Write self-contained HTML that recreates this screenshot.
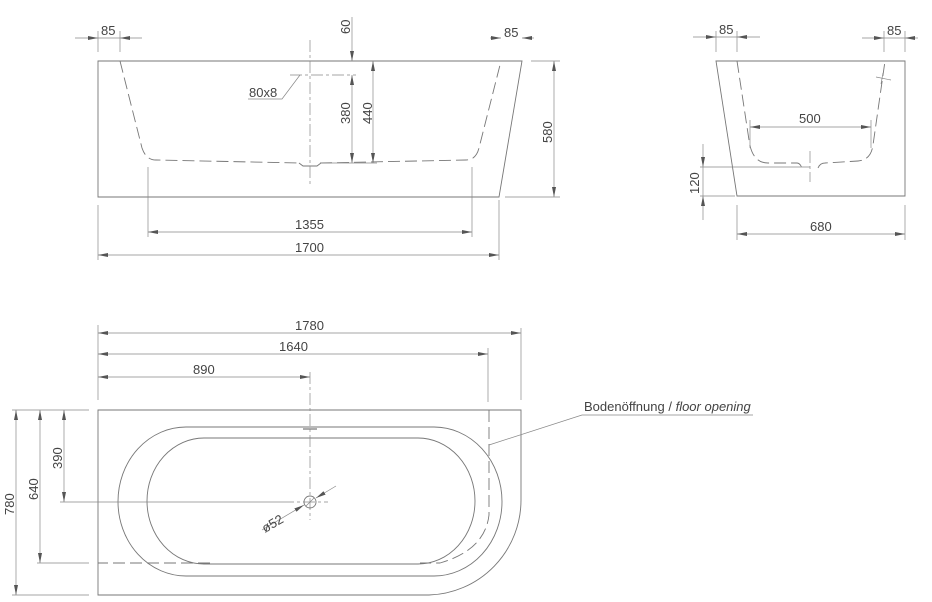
<!DOCTYPE html>
<html><head><meta charset="utf-8"><style>
html,body{margin:0;padding:0;background:#fff;}
svg{display:block;}
text{font-family:"Liberation Sans",sans-serif;font-size:13px;fill:#444;}
.l{stroke:#777;stroke-width:0.9;fill:none;}
.t{stroke:#888;stroke-width:0.7;fill:none;}
.d{stroke:#777;stroke-width:0.9;fill:none;stroke-dasharray:12 5;}
.c{stroke:#888;stroke-width:0.7;fill:none;stroke-dasharray:12 3 3 3;}
</style></head><body>
<svg width="932" height="602" viewBox="0 0 932 602" xmlns="http://www.w3.org/2000/svg">
<defs>
<marker id="a" viewBox="0 0 10 4" refX="10" refY="2" markerWidth="10" markerHeight="4" markerUnits="userSpaceOnUse" orient="auto-start-reverse"><path d="M0,0 L10,2 L0,4z" fill="#555"/></marker>
</defs>

<!-- ===== FRONT VIEW ===== -->
<path class="l" d="M98,61 H522 L499,197 H98 Z"/>
<path class="d" d="M120,61 L142,148 Q146,160 156,160 L300,163 M320,163 L466,160 Q476,160 479,148 L501,61"/>
<path class="l" d="M299,163 L303,166 H317 L321,163"/>
<line class="c" x1="310" y1="40" x2="310" y2="186"/>
<line class="c" x1="290" y1="75" x2="356" y2="75"/>
<path class="t" d="M300,75 L282,99 H248"/>
<text x="249" y="97">80x8</text>
<line class="t" x1="352" y1="17" x2="352" y2="61" marker-end="url(#a)"/>
<line class="t" x1="352" y1="75" x2="352" y2="163" marker-start="url(#a)" marker-end="url(#a)"/>
<line class="t" x1="320" y1="163" x2="377" y2="163"/>
<text transform="translate(350,34) rotate(-90)">60</text>
<text transform="translate(350,124) rotate(-90)">380</text>
<line class="t" x1="373" y1="61" x2="373" y2="163" marker-start="url(#a)" marker-end="url(#a)"/>
<text transform="translate(372,124) rotate(-90)">440</text>
<line class="t" x1="531" y1="61" x2="560" y2="61"/>
<line class="t" x1="505" y1="197" x2="560" y2="197"/>
<line class="t" x1="554" y1="61" x2="554" y2="197" marker-start="url(#a)" marker-end="url(#a)"/>
<text transform="translate(552,143) rotate(-90)">580</text>
<line class="t" x1="148" y1="167" x2="148" y2="237"/>
<line class="t" x1="472" y1="167" x2="472" y2="237"/>
<line class="t" x1="148" y1="232" x2="472" y2="232" marker-start="url(#a)" marker-end="url(#a)"/>
<text x="295" y="229">1355</text>
<line class="t" x1="98" y1="205" x2="98" y2="260"/>
<line class="t" x1="499" y1="200" x2="499" y2="260"/>
<line class="t" x1="98" y1="255" x2="499" y2="255" marker-start="url(#a)" marker-end="url(#a)"/>
<text x="295" y="252">1700</text>
<line class="t" x1="98" y1="31" x2="98" y2="52"/>
<line class="t" x1="120" y1="31" x2="120" y2="52"/>
<line class="t" x1="75" y1="38" x2="98" y2="38" marker-end="url(#a)"/>
<line class="t" x1="142" y1="38" x2="120" y2="38" marker-end="url(#a)"/>
<line class="t" x1="98" y1="38" x2="120" y2="38"/>
<text x="101" y="35">85</text>
<line class="t" x1="490" y1="38" x2="501" y2="38" marker-end="url(#a)"/>
<line class="t" x1="534" y1="38" x2="522" y2="38" marker-end="url(#a)"/>
<text x="504" y="37">85</text>

<!-- ===== SIDE VIEW ===== -->
<path class="l" d="M716,61 H905 V196 H737 Z"/>
<path class="d" d="M737,61 L749,140 Q752,163 768,163 L797,163 Q800,163 802,168 M818,168 Q820,163 825,163 L858,161 Q871,160 873,145 L885,61"/>
<line class="c" x1="810" y1="151" x2="810" y2="182"/>
<path class="t" d="M876,77 L891,80 M883,73 L881,84"/>
<line class="t" x1="750" y1="120" x2="750" y2="148"/>
<line class="t" x1="871" y1="120" x2="871" y2="148"/>
<line class="t" x1="750" y1="127" x2="871" y2="127" marker-start="url(#a)" marker-end="url(#a)"/>
<text x="799" y="123">500</text>
<line class="t" x1="700" y1="167" x2="810" y2="167"/>
<line class="t" x1="700" y1="196" x2="735" y2="196"/>
<line class="t" x1="703" y1="144" x2="703" y2="167" marker-end="url(#a)"/>
<line class="t" x1="703" y1="220" x2="703" y2="196" marker-end="url(#a)"/>
<line class="t" x1="703" y1="167" x2="703" y2="196"/>
<text transform="translate(699,194) rotate(-90)">120</text>
<line class="t" x1="737" y1="205" x2="737" y2="240"/>
<line class="t" x1="905" y1="205" x2="905" y2="240"/>
<line class="t" x1="737" y1="234" x2="905" y2="234" marker-start="url(#a)" marker-end="url(#a)"/>
<text x="810" y="231">680</text>
<line class="t" x1="716" y1="31" x2="716" y2="52"/>
<line class="t" x1="737" y1="31" x2="737" y2="52"/>
<line class="t" x1="693" y1="37" x2="716" y2="37" marker-end="url(#a)"/>
<line class="t" x1="760" y1="37" x2="737" y2="37" marker-end="url(#a)"/>
<line class="t" x1="716" y1="37" x2="737" y2="37"/>
<text x="719" y="34">85</text>
<line class="t" x1="884" y1="31" x2="884" y2="52"/>
<line class="t" x1="905" y1="31" x2="905" y2="52"/>
<line class="t" x1="862" y1="38" x2="884" y2="38" marker-end="url(#a)"/>
<line class="t" x1="918" y1="38" x2="905" y2="38" marker-end="url(#a)"/>
<line class="t" x1="884" y1="38" x2="905" y2="38"/>
<text x="887" y="35">85</text>

<!-- ===== PLAN VIEW ===== -->
<path class="l" d="M98,410 H521 V500 A95,95 0 0 1 429,595 H98 Z"/>
<path class="l" d="M186,427 H434 A68,74.5 0 0 1 434,576 H186 A68,74.5 0 0 1 186,427 Z"/>
<path class="l" d="M204,438 H418 A57,63 0 0 1 418,564 H204 A57,63 0 0 1 204,438 Z"/>
<path class="d" d="M489,410 V515 Q485,550 440,563 L420,563 M210,563 H98"/>
<line class="t" x1="37" y1="563" x2="89" y2="563"/>
<path class="t" d="M303,429 H317" style="stroke-width:1.4"/>
<line class="c" x1="310" y1="372" x2="310" y2="520"/>
<line class="t" x1="60" y1="502" x2="282" y2="502"/>
<line class="c" x1="282" y1="502" x2="328" y2="502"/>
<circle class="l" cx="310" cy="502" r="6"/>
<line class="t" x1="306" y1="506" x2="314" y2="498"/>
<line class="t" x1="262" y1="530" x2="304" y2="505" marker-end="url(#a)"/>
<line class="t" x1="336" y1="486" x2="316" y2="498" marker-end="url(#a)"/>
<text transform="translate(265,533) rotate(-30)">ø52</text>
<path class="t" d="M489,445 L582,415 H753"/>
<text x="584" y="411">Bodenöffnung / <tspan font-style="italic">floor opening</tspan></text>
<line class="t" x1="98" y1="325" x2="98" y2="400"/>
<line class="t" x1="521" y1="328" x2="521" y2="400"/>
<line class="t" x1="488" y1="348" x2="488" y2="402"/>
<line class="t" x1="98" y1="333" x2="521" y2="333" marker-start="url(#a)" marker-end="url(#a)"/>
<text x="295" y="330">1780</text>
<line class="t" x1="98" y1="354" x2="488" y2="354" marker-start="url(#a)" marker-end="url(#a)"/>
<text x="279" y="351">1640</text>
<line class="t" x1="98" y1="377" x2="310" y2="377" marker-start="url(#a)" marker-end="url(#a)"/>
<text x="193" y="374">890</text>
<line class="t" x1="12" y1="410" x2="89" y2="410"/>
<line class="t" x1="12" y1="595" x2="89" y2="595"/>
<line class="t" x1="16" y1="410" x2="16" y2="595" marker-start="url(#a)" marker-end="url(#a)"/>
<text transform="translate(14,515) rotate(-90)">780</text>
<line class="t" x1="40" y1="410" x2="40" y2="563" marker-start="url(#a)" marker-end="url(#a)"/>
<text transform="translate(38,500) rotate(-90)">640</text>
<line class="t" x1="64" y1="410" x2="64" y2="502" marker-start="url(#a)" marker-end="url(#a)"/>
<text transform="translate(62,469) rotate(-90)">390</text>
</svg>
</body></html>
